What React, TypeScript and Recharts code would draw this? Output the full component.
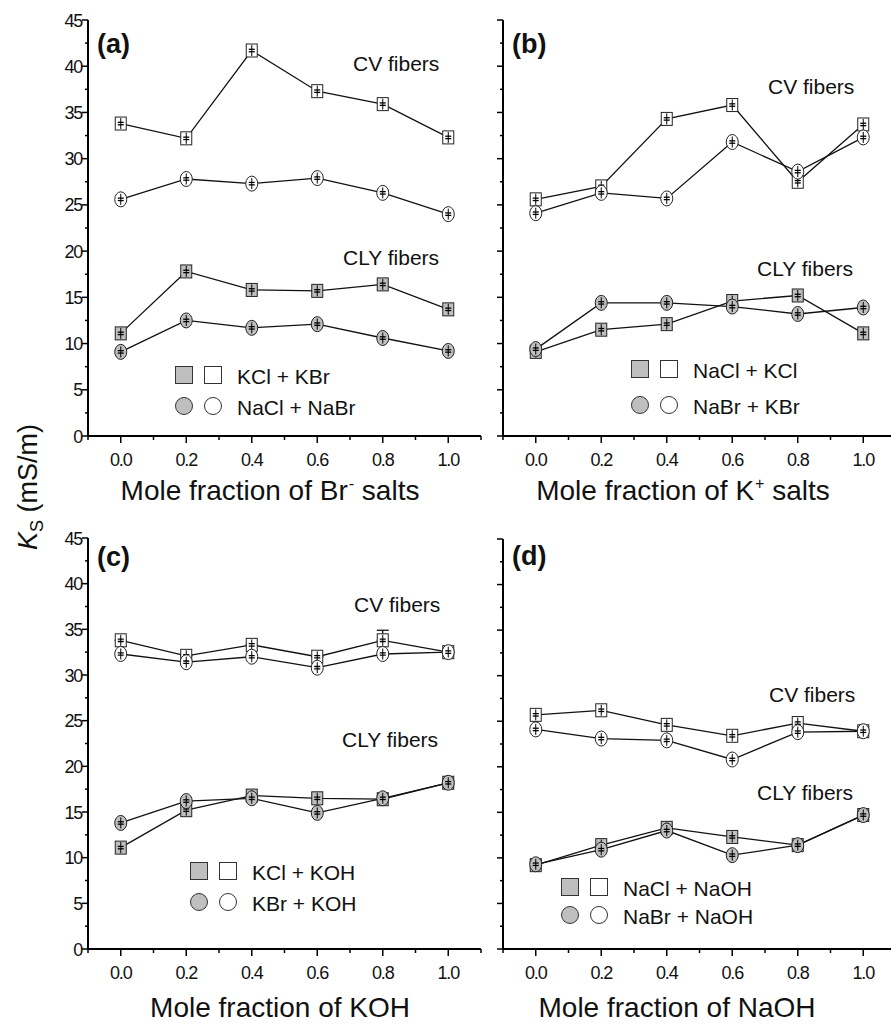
import React from "react";
import { LineChart, Line, XAxis, YAxis, ErrorBar } from "recharts";

const MOLE_FRACTIONS = [0, 0.2, 0.4, 0.6, 0.8, 1.0];
const X_TICKS = [-0.1, 0, 0.1, 0.2, 0.3, 0.4, 0.5, 0.6, 0.7, 0.8, 0.9, 1.0, 1.1];
const Y_TICKS = [0, 2.5, 5, 7.5, 10, 12.5, 15, 17.5, 20, 22.5, 25, 27.5, 30, 32.5, 35, 37.5, 40, 42.5, 45];

// (a) mole fraction of Br- salts
const A_CV_SQUARE = [33.8, 32.2, 41.7, 37.3, 35.9, 32.3];
const A_CV_CIRCLE = [25.6, 27.8, 27.3, 27.9, 26.3, 24.0];
const A_CLY_SQUARE = [11.1, 17.8, 15.8, 15.7, 16.4, 13.7];
const A_CLY_CIRCLE = [9.1, 12.5, 11.7, 12.1, 10.6, 9.2];

// (b) mole fraction of K+ salts
const B_CV_SQUARE = [25.6, 27.0, 34.3, 35.8, 27.5, 33.7];
const B_CV_CIRCLE = [24.1, 26.3, 25.7, 31.8, 28.6, 32.3];
const B_CLY_SQUARE = [9.1, 11.5, 12.1, 14.6, 15.2, 11.1];
const B_CLY_CIRCLE = [9.4, 14.4, 14.4, 14.0, 13.2, 13.9];

// (c) mole fraction of KOH
const C_CV_SQUARE = [33.8, 32.1, 33.3, 32.0, 33.8, 32.5];
const C_CV_SQUARE_ERR = [[0, 0], [0, 0], [0, 0], [0, 0], [0, 1.1], [0, 0]];
const C_CV_CIRCLE = [32.3, 31.4, 32.0, 30.8, 32.3, 32.5];
const C_CLY_SQUARE = [11.1, 15.2, 16.8, 16.5, 16.4, 18.2];
const C_CLY_CIRCLE = [13.8, 16.2, 16.5, 14.9, 16.5, 18.2];

// (d) mole fraction of NaOH
const D_CV_SQUARE = [25.7, 26.2, 24.6, 23.4, 24.8, 23.9];
const D_CV_CIRCLE = [24.1, 23.1, 22.9, 20.8, 23.8, 23.9];
const D_CLY_SQUARE = [9.2, 11.4, 13.3, 12.3, 11.4, 14.7];
const D_CLY_CIRCLE = [9.3, 10.9, 13.0, 10.3, 11.4, 14.7];

const GRAY = "#bfbfbf";
const FONT = "'Liberation Sans', Arial, sans-serif";

const SERIES = [
  { key: "cvSq", shape: "square", filled: false },
  { key: "cvCi", shape: "circle", filled: false },
  { key: "clySq", shape: "square", filled: true },
  { key: "clyCi", shape: "circle", filled: true },
];

function buildRows(cvSq: number[], cvCi: number[], clySq: number[], clyCi: number[], cvSqErr?: number[][]) {
  return MOLE_FRACTIONS.map((x, i) => ({
    x,
    cvSq: cvSq[i],
    cvCi: cvCi[i],
    clySq: clySq[i],
    clyCi: clyCi[i],
    cvSqErr: cvSqErr ? cvSqErr[i] : undefined,
  }));
}

function Marker({ cx, cy, shape, filled }: any) {
  if (cx == null || cy == null) return null;
  const fill = filled ? GRAY : "#fff";
  return (
    <g>
      {shape === "square" ? (
        <rect x={cx - 5.5} y={cy - 6.5} width={11} height={13} fill={fill} stroke="#222" strokeWidth={1} />
      ) : (
        <ellipse cx={cx} cy={cy} rx={6} ry={7.5} fill={fill} stroke="#222" strokeWidth={1} />
      )}
      <line x1={cx} y1={cy - 5.5} x2={cx} y2={cy + 5.5} stroke="#000" strokeWidth={1} />
      <line x1={cx - 3} y1={cy - 1.2} x2={cx + 3} y2={cy - 1.2} stroke="#000" strokeWidth={1.3} />
      <line x1={cx - 3} y1={cy + 1.2} x2={cx + 3} y2={cy + 1.2} stroke="#000" strokeWidth={1.3} />
    </g>
  );
}

const XTick = (props: any) => {
  const { x, y, payload } = props;
  const i = Math.round(payload.value * 10);
  const major = i >= 0 && i <= 10 && i % 2 === 0;
  return (
    <g>
      <line x1={x} y1={y} x2={x} y2={y + (major ? 7 : 4)} stroke="#000" strokeWidth={1.5} />
      {major && (
        <text x={x} y={y + 29.5} textAnchor="middle" fontFamily={FONT} fontSize={18} letterSpacing={-1.2} fill="#111">
          {(i / 10).toFixed(1)}
        </text>
      )}
    </g>
  );
};

const makeYTick = (showLabel: boolean) => (props: any) => {
  const { x, y, payload } = props;
  const v = payload.value;
  const major = v % 5 === 0;
  return (
    <g>
      <line x1={x} y1={y} x2={x - (major ? 6 : 3)} y2={y} stroke="#000" strokeWidth={1.5} />
      {showLabel && major && (
        <text x={x - 6} y={y + 6.5} textAnchor="end" fontFamily={FONT} fontSize={18} letterSpacing={-1.2} fill="#111">
          {v}
        </text>
      )}
    </g>
  );
};

type PanelProps = {
  left: number;
  top: number;
  width: number;
  height: number;
  marginLeft: number;
  yAxisWidth: number;
  showYLabels: boolean;
  rows: any[];
  hasErr?: boolean;
};

function Panel({ left, top, width, height, marginLeft, yAxisWidth, showYLabels, rows, hasErr }: PanelProps) {
  return (
    <div style={{ position: "absolute", left, top }}>
      <LineChart width={width} height={height} data={rows} margin={{ top: 20, right: 9, bottom: 0, left: marginLeft }}>
        <XAxis
          dataKey="x"
          type="number"
          domain={[-0.1, 1.1]}
          ticks={X_TICKS}
          interval={0}
          height={60}
          tickSize={0}
          tickMargin={0}
          tickLine={false}
          tick={XTick}
          axisLine={{ stroke: "#000", strokeWidth: 2 }}
          allowDataOverflow
        />
        <YAxis
          type="number"
          domain={[0, 45]}
          ticks={Y_TICKS}
          interval={0}
          width={yAxisWidth}
          tickSize={0}
          tickMargin={0}
          tickLine={false}
          tick={makeYTick(showYLabels)}
          axisLine={{ stroke: "#000", strokeWidth: 2 }}
        />
        {SERIES.map((s) => (
          <Line
            key={`line-${s.key}`}
            type="linear"
            dataKey={s.key}
            stroke="#111"
            strokeWidth={1.3}
            dot={false}
            activeDot={false}
            isAnimationActive={false}
          >
            {hasErr && s.key === "cvSq" && (
              <ErrorBar dataKey="cvSqErr" width={6} stroke="#000" strokeWidth={1.2} direction="y" isAnimationActive={false} />
            )}
          </Line>
        ))}
        {SERIES.map((s) => (
          <Line
            key={`dots-${s.key}`}
            type="linear"
            dataKey={s.key}
            stroke="none"
            dot={(p: any) => (
              <Marker key={`m-${s.key}-${p.index}`} cx={p.cx} cy={p.cy} shape={s.shape} filled={s.filled} />
            )}
            activeDot={false}
            isAnimationActive={false}
          />
        ))}
      </LineChart>
    </div>
  );
}

function Text({ x, y, size, children, bold, center }: any) {
  return (
    <div
      style={{
        position: "absolute",
        left: x,
        top: y,
        transform: center ? "translate(-50%, -50%)" : "translateY(-50%)",
        fontSize: size,
        lineHeight: 1,
        fontWeight: bold ? "bold" : "normal",
        whiteSpace: "nowrap",
        color: "#111",
      }}
    >
      {children}
    </div>
  );
}

function LegendBox({ x, y, rowGap, labels }: any) {
  const sw = 18;
  const row = (top: number, round: boolean, label: string) => (
    <>
      <div
        style={{
          position: "absolute",
          left: x,
          top,
          width: sw,
          height: sw,
          background: GRAY,
          border: "1px solid #333",
          borderRadius: round ? "50%" : 0,
          boxSizing: "border-box",
        }}
      />
      <div
        style={{
          position: "absolute",
          left: x + 29,
          top,
          width: sw,
          height: sw,
          background: "#fff",
          border: "1px solid #333",
          borderRadius: round ? "50%" : 0,
          boxSizing: "border-box",
        }}
      />
      <Text x={x + 62} y={top + sw / 2 + 1} size={21}>
        {label}
      </Text>
    </>
  );
  return (
    <>
      {row(y, false, labels[0])}
      {row(y + rowGap, true, labels[1])}
    </>
  );
}

const supStyle: React.CSSProperties = { fontSize: 16, position: "relative", top: -11, marginLeft: 1 };

export default function App() {
  return (
    <div
      style={{
        position: "fixed",
        left: 0,
        top: 0,
        width: 891,
        height: 1029,
        overflow: "hidden",
        background: "#fff",
        fontFamily: FONT,
      }}
    >
      <Panel left={0} top={0} width={490} height={496} marginLeft={28} yAxisWidth={60} showYLabels
        rows={buildRows(A_CV_SQUARE, A_CV_CIRCLE, A_CLY_SQUARE, A_CLY_CIRCLE)} />
      <Panel left={440} top={0} width={465} height={496} marginLeft={23} yAxisWidth={40} showYLabels={false}
        rows={buildRows(B_CV_SQUARE, B_CV_CIRCLE, B_CLY_SQUARE, B_CLY_CIRCLE)} />
      <Panel left={0} top={518} width={490} height={491} marginLeft={28} yAxisWidth={60} showYLabels hasErr
        rows={buildRows(C_CV_SQUARE, C_CV_CIRCLE, C_CLY_SQUARE, C_CLY_CIRCLE, C_CV_SQUARE_ERR)} />
      <Panel left={440} top={519} width={465} height={490} marginLeft={23} yAxisWidth={40} showYLabels={false}
        rows={buildRows(D_CV_SQUARE, D_CV_CIRCLE, D_CLY_SQUARE, D_CLY_CIRCLE)} />

      <Text x={97} y={44} size={27} bold>(a)</Text>
      <Text x={512} y={44} size={27} bold>(b)</Text>
      <Text x={97} y={557} size={27} bold>(c)</Text>
      <Text x={512} y={556} size={27} bold>(d)</Text>

      <Text x={353} y={63} size={21}>CV fibers</Text>
      <Text x={343} y={257} size={21}>CLY fibers</Text>
      <Text x={768} y={86} size={21}>CV fibers</Text>
      <Text x={757} y={268} size={21}>CLY fibers</Text>
      <Text x={354} y={604} size={21}>CV fibers</Text>
      <Text x={342} y={739} size={21}>CLY fibers</Text>
      <Text x={769} y={694} size={21}>CV fibers</Text>
      <Text x={757} y={792} size={21}>CLY fibers</Text>

      <LegendBox x={175} y={366} rowGap={31} labels={["KCl + KBr", "NaCl + NaBr"]} />
      <LegendBox x={631} y={360} rowGap={36} labels={["NaCl + KCl", "NaBr + KBr"]} />
      <LegendBox x={190} y={862} rowGap={31} labels={["KCl + KOH", "KBr + KOH"]} />
      <LegendBox x={561} y={878} rowGap={28} labels={["NaCl + NaOH", "NaBr + NaOH"]} />

      <Text x={270} y={491} size={28} center>
        Mole fraction of Br<span style={supStyle}>-</span> salts
      </Text>
      <Text x={683} y={491} size={28} center>
        Mole fraction of K<span style={supStyle}>+</span> salts
      </Text>
      <Text x={280} y={1008} size={28} center>Mole fraction of KOH</Text>
      <Text x={677} y={1008} size={28} center>Mole fraction of NaOH</Text>

      <div
        style={{
          position: "absolute",
          left: 28,
          top: 487,
          transform: "translate(-50%, -50%) rotate(-90deg)",
          fontSize: 27,
          lineHeight: 1,
          whiteSpace: "nowrap",
          color: "#111",
        }}
      >
        <i>K</i>
        <span style={{ fontSize: 18, position: "relative", top: 6 }}>S</span> (mS/m)
      </div>
    </div>
  );
}
